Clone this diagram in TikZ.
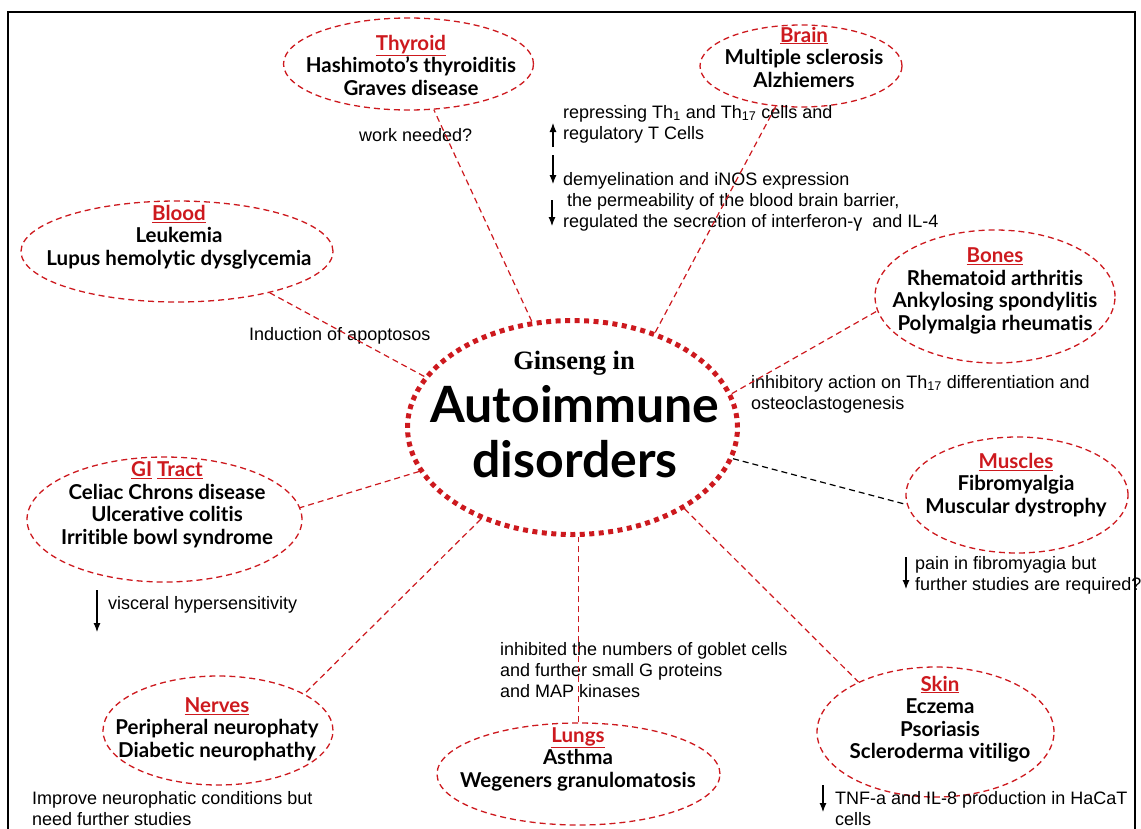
\documentclass[tikz,border=0pt]{standalone}
\usepackage{fontspec}
\setmainfont{Liberation Sans}
\newfontfamily\orgfont[Ligatures=NoCommon]{Lato}
\newfontfamily\serfont{Liberation Serif}
\usetikzlibrary{arrows.meta,calc,shapes.geometric}
\definecolor{ginred}{RGB}{205,25,30}
\newcommand{\hd}[1]{\textcolor{ginred}{\underline{#1}}}

\begin{document}
\begin{tikzpicture}[x=1pt,y=-1pt,
  organ/.style={ellipse,draw=ginred,line width=1.3pt,dash pattern=on 6pt off 4pt,inner sep=0pt},
  organtxt/.style={font=\orgfont\bfseries\fontsize{20.5}{22.5}\selectfont,align=center,inner sep=0pt},
  note/.style={font=\fontsize{18}{21}\selectfont,align=left,inner sep=0pt,anchor=west},
  link/.style={ginred,line width=1.2pt,dash pattern=on 6pt off 4pt},
  dn/.style={line width=1.1pt,-{Latex[length=9pt,width=7pt]}}]

\useasboundingbox (0,0) rectangle (1141,828);
\clip (0,0) rectangle (1141,828);
\draw[line width=1.2pt] (8,850) |- (1135,12) -- (1135,850);

% centre
\node[ellipse,draw=ginred,line width=5pt,dash pattern=on 5pt off 4.5pt,minimum width=330pt,minimum height=214pt,inner sep=0pt] (cen) at (572.5,427.5) {};
\node[font=\serfont\bfseries\fontsize{26.5}{30}\selectfont,inner sep=0pt] (gin) at (574,363) {Ginseng in};
\node[organtxt,font=\orgfont\bfseries\fontsize{50}{55}\selectfont] (aut) at (575,432) {Autoimmune\\disorders};

% organs
\node[organ,minimum width=250pt,minimum height=92pt] (thy) at (408.5,64) {};
\node[organtxt] (thy-t) at (411,65) {\hd{Thyroid}\\Hashimoto’s thyroiditis\\Graves disease};
\node[organ,minimum width=202pt,minimum height=82pt] (bra) at (801,66) {};
\node[organtxt] (bra-t) at (804,57) {\hd{Brain}\\Multiple sclerosis\\Alzhiemers};
\node[organ,minimum width=312pt,minimum height=101pt] (blo) at (177,251.5) {};
\node[organtxt] (blo-t) at (179,237) {\hd{Blood}\\Leukemia\\Lupus hemolytic dysglycemia};
\node[organ,minimum width=240pt,minimum height=133pt] (bon) at (995,296.5) {};
\node[organtxt] (bon-t) at (995,291) {\hd{Bones}\\Rhematoid arthritis\\Ankylosing spondylitis\\Polymalgia rheumatis};
\node[organ,minimum width=222pt,minimum height=116pt] (mus) at (1017,495) {};
\node[organtxt] (mus-t) at (1016,485) {\hd{Muscles}\\Fibromyalgia\\Muscular dystrophy};
\node[organ,minimum width=275pt,minimum height=125pt] (git) at (164.5,519.5) {};
\node[organtxt] (git-t) at (167,504.5) {\hd{GI} \hd{Tract}\\Celiac Chrons disease\\Ulcerative colitis\\Irritible bowl syndrome};
\node[organ,minimum width=230pt,minimum height=109pt] (ner) at (218,730.5) {};
\node[organtxt] (ner-t) at (217,729) {\hd{Nerves}\\Peripheral neurophaty\\Diabetic neurophathy};
\node[organ,minimum width=283pt,minimum height=102pt] (lun) at (578.5,774) {};
\node[organtxt] (lun-t) at (578,759) {\hd{Lungs}\\Asthma\\Wegeners granulomatosis};
\node[organ,minimum width=237pt,minimum height=130pt] (ski) at (935.5,732) {};
\node[organtxt] (ski-t) at (940,719) {\hd{Skin}\\Eczema\\Psoriasis\\Scleroderma vitiligo};

% notes
\node[note] (wk) at (359,135) {work needed?};
\node[note] (bn1) at (563,124) {repressing Th\textsubscript{1} and Th\textsubscript{17} cells and\\regulatory T Cells};
\node[note] (bn2) at (563,202) {demyelination and iNOS expression\\\hspace{4pt}the permeability of the blood brain barrier,\\regulated the secretion of interferon-γ\ \ and IL-4};
\node[note] (ap) at (249,336) {Induction of apoptosos};
\node[note] (bo) at (751,394) {inhibitory action on Th\textsubscript{17} differentiation and\\osteoclastogenesis};
\node[note] (mn) at (915,575) {pain in fibromyagia but\\further studies are required?};
\node[note] (gn) at (108,605) {visceral hypersensitivity};
\node[note] (ln) at (500,670) {inhibited the numbers of goblet cells\\and further small G proteins\\and MAP kinases};
\node[note] (nn) at (32,809) {Improve neurophatic conditions but\\need further studies};
\node[note] (sn) at (835,809) {TNF-a and IL-8 production in HaCaT\\cells};

% links
\path[link] (cen.111.6) edge (thy.-61.7)
  (cen.49.9) edge (bra.238.5)
  (cen.161.2) edge (blo.-24.5)
  (cen.12) edge (bon.187.5)
  (cen.196.9) edge (git.5.3)
  (cen.225) edge (ner.23.6)
  (cen.-36.7) edge (ski.147.1)
  (lun.north) edge (lun.north |- cen.south);
\draw[line width=1.2pt,dash pattern=on 6pt off 4pt] (cen.-11.4) -- (mus.185.1);

% up / down arrows
\draw[dn] ($(bn1.west)+(-10,23)$) -- ++(0,-24);
\draw[dn] ($(bn2.west)+(-10,-47)$) -- ++(0,29);
\draw[dn] ($(bn2.west)+(-11,-2)$) -- ++(0,26);
\draw[dn] ($(mn.west)+(-9,-18)$) -- ++(0,32);
\draw[dn] ($(gn.west)+(-11,-15)$) -- ++(0,42);
\draw[dn] ($(sn.west)+(-12,-24)$) -- ++(0,27);

\end{tikzpicture}
\end{document}
